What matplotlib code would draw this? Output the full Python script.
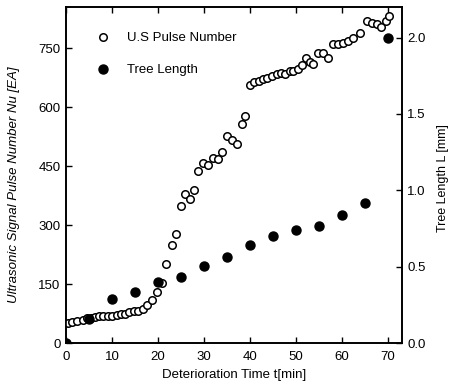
import numpy as np
import matplotlib.pyplot as plt

plt.rcParams['font.family'] = ['Liberation Sans', 'DejaVu Sans']

# ultrasonic pulse count (open circles, left axis)
pulse_t = [0.5, 1.4, 2.5, 3.6, 4.5, 5.4, 6.3, 7.2, 8.1, 9.1, 10.1, 11.0, 12.0, 12.8,
           13.8, 14.8, 15.7, 16.7, 17.7, 18.6, 19.7, 20.8, 21.7, 23.0, 23.9, 24.9,
           25.8, 27.0, 27.9, 28.8, 29.8, 30.9, 31.9, 33.0, 33.9, 35.0, 36.0, 37.1,
           38.2, 38.9, 40.0, 40.9, 41.9, 42.9, 43.8, 44.8, 45.8, 46.7, 47.6, 48.7,
           49.4, 50.5, 51.2, 52.2, 53.0, 53.8, 54.8, 55.9, 57.0, 58.1, 59.2, 60.3,
           61.4, 62.4, 63.9, 65.4, 66.5, 67.5, 68.5, 69.6, 70.3]
pulse_n = [52, 54, 56, 60, 63, 65, 67, 69, 69, 70, 70, 71, 73, 75,
           78, 81, 82, 87, 96, 109, 129, 152, 201, 249, 277, 349,
           379, 367, 389, 438, 459, 453, 470, 468, 487, 527, 517, 506,
           557, 578, 656, 664, 667, 671, 674, 679, 684, 688, 684, 693,
           691, 696, 707, 724, 716, 710, 737, 739, 724, 760, 761, 764,
           769, 775, 788, 818, 815, 812, 805, 818, 831]

# tree length (filled circles, right axis)
tree_t = [0, 5, 10, 15, 20, 25, 30, 35, 40, 45, 50, 55, 60, 65, 70]
tree_l = [0.0, 0.155, 0.29, 0.335, 0.40, 0.435, 0.505, 0.565, 0.645, 0.70,
          0.74, 0.765, 0.84, 0.92, 2.0]

fig = plt.figure(figsize=(4.52, 3.86), dpi=100)
ax = fig.add_axes([0.146, 0.111, 0.743, 0.871])
ax2 = ax.twinx()

ax.plot(pulse_t, pulse_n, 'o', mfc='white', mec='black', mew=1.1, ms=5.4,
        label='U.S Pulse Number', zorder=3)
ax2.plot(tree_t, tree_l, 'o', mfc='black', mec='black', ms=6.5,
         label='Tree Length', zorder=3)

ax.set_xlim(0, 73)
ax.set_ylim(0, 855)
ax2.set_ylim(0, 2.2)
ax.set_xticks(np.arange(0, 71, 10))
ax.set_yticks(np.arange(0, 751, 150))
ax2.set_yticks([0.0, 0.5, 1.0, 1.5, 2.0])
ax2.set_yticklabels(['0.0', '0.5', '1.0', '1.5', '2.0'])

fs = 9.5
ax.tick_params(axis='x', direction='in', top=True, length=4, width=1, labelsize=fs, pad=6)
ax.tick_params(axis='y', direction='in', length=4, width=1, labelsize=fs, pad=4)
ax2.tick_params(axis='y', direction='in', length=4, width=1, labelsize=fs, pad=4)

for a in (ax, ax2):
    for s in a.spines.values():
        s.set_linewidth(1.2)

ax.set_xlabel('Deterioration Time t[min]', fontsize=fs)
ax.xaxis.set_label_coords(0.5, -0.078)
ax.set_ylabel('Ultrasonic Signal Pulse Number Nu [EA]', fontsize=9.5, style='italic')
ax.yaxis.set_label_coords(-0.137, 0.47)
ax2.set_ylabel('Tree Length L [mm]', fontsize=9)
ax2.yaxis.set_label_coords(1.105, 0.49)

h1, l1 = ax.get_legend_handles_labels()
h2, l2 = ax2.get_legend_handles_labels()
ax.legend(h1 + h2, l1 + l2, loc='upper left', frameon=False, fontsize=fs,
          bbox_to_anchor=(0.055, 0.961), labelspacing=1.5, handletextpad=1.3,
          handlelength=1.0)

fig.savefig('out.png', dpi=100)
